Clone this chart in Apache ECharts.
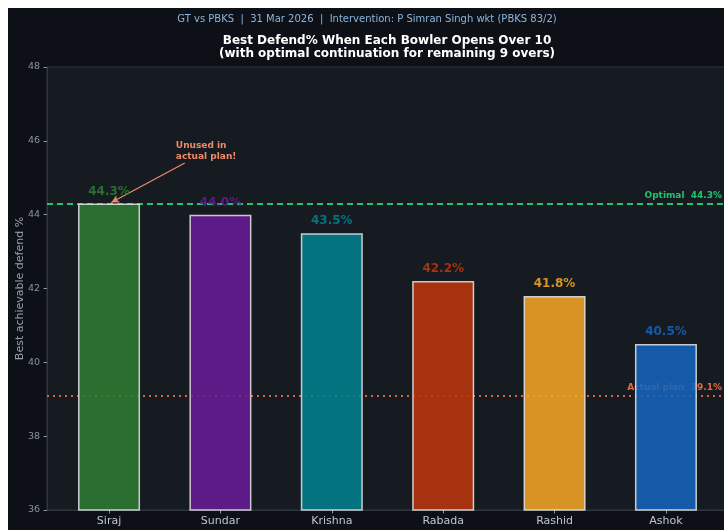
<!DOCTYPE html>
<html>
<head>
<meta charset="utf-8">
<script src="https://cdn.jsdelivr.net/npm/echarts@6/dist/echarts.min.js"></script>
<style>
  html, body { margin: 0; padding: 0; background: #ffffff; }
  #chart { position: absolute; left: 8px; top: 8px; width: 716px; height: 522px; }
</style>
</head>
<body>
<div id="chart"></div>
<script>
// data
var bowlers = ['Siraj', 'Sundar', 'Krishna', 'Rabada', 'Rashid', 'Ashok'];
var defendPct = [44.3, 44.0, 43.5, 42.2, 41.8, 40.5];
var barColors = ['#2e7d32', '#6a1b9a', '#00838f', '#bf360c', '#f9a825', '#1565c0'];
var optimalPct = 44.3;
var actualPct = 39.1;
var yTicks = [36, 38, 40, 42, 44, 46, 48];

var FONT = 'DejaVu Sans';
var dom = document.getElementById('chart');
var myChart = echarts.init(dom);

var barData = bowlers.map(function (name, i) {
	return {
		value: [i, defendPct[i]],
		itemStyle: { color: barColors[i] },
		label: { color: barColors[i] }
	};
});

option = {
	backgroundColor: '#0d1117',
	animation: false,
	grid: {
		left: 39,
		right: -4,
		top: 59,
		bottom: 20,
		outerBoundsMode: 'none',
		containLabel: false,
		show: true,
		backgroundColor: '#161b22',
		borderColor: '#30363d',
		borderWidth: 1
	},
	xAxis: {
		type: 'value',
		min: -0.557,
		max: 5.557,
		splitLine: { show: false },
		axisLine: { show: true, onZero: false, lineStyle: { color: '#30363d' } },
		axisTick: {
			show: true,
			customValues: [0, 1, 2, 3, 4, 5],
			length: 3.5,
			lineStyle: { color: '#8b949e' }
		},
		axisLabel: {
			customValues: [0, 1, 2, 3, 4, 5],
			formatter: function (v) { return bowlers[Math.round(v)]; },
			color: '#c0c6ce',
			fontFamily: FONT,
			fontSize: 11,
			margin: 6
		}
	},
	yAxis: {
		type: 'value',
		min: yTicks[0],
		max: yTicks[yTicks.length - 1],
		interval: 2,
		name: 'Best achievable defend %',
		nameLocation: 'middle',
		nameGap: 21,
		nameMoveOverlap: false,
		nameTextStyle: { color: '#9aa1aa', fontFamily: FONT, fontSize: 11 },
		splitLine: { show: false },
		axisLine: { show: true, onZero: false, lineStyle: { color: '#30363d' } },
		axisTick: { show: true, length: 3.5, lineStyle: { color: '#8b949e' } },
		axisLabel: { color: '#8b949e', fontFamily: FONT, fontSize: 9.5, margin: 7 }
	},
	series: [{
		// reference lines, under the bars
		type: 'line',
		data: [],
		zlevel: 0,
		markLine: {
			silent: true,
			symbol: 'none',
			data: [{
				yAxis: optimalPct,
				lineStyle: { color: '#1fc46c', type: [6, 4], width: 1.8 },
				label: {
					position: 'insideEndTop',
					formatter: 'Optimal  ' + optimalPct.toFixed(1) + '%',
					color: '#1fc46c',
					fontFamily: FONT,
					fontWeight: 'bold',
					fontSize: 9,
					distance: [6, 3]
				}
			}, {
				yAxis: actualPct,
				lineStyle: { color: '#d9603b', type: [2, 4], width: 1.8 },
				label: {
					position: 'insideEndTop',
					formatter: 'Actual plan  ' + actualPct.toFixed(1) + '%',
					color: '#e4683c',
					fontFamily: FONT,
					fontWeight: 'bold',
					fontSize: 9,
					distance: [6, 3]
				}
			}]
		}
	}, {
		type: 'bar',
		zlevel: 1,
		barWidth: 62,
		data: barData,
		itemStyle: { borderColor: '#e6e6e6', borderWidth: 1.5, opacity: 0.85 },
		label: {
			show: true,
			position: 'top',
			distance: 6,
			fontFamily: FONT,
			fontWeight: 'bold',
			fontSize: 12,
			formatter: function (p) { return p.value[1].toFixed(1) + '%'; }
		},
		markLine: {
			silent: true,
			symbol: ['none', 'arrow'],
			symbolSize: [6, 8],
			lineStyle: { color: '#f08a66', type: 'solid', width: 1.2 },
			label: { show: false },
			data: [[{ coord: [0.68, 45.4] }, { coord: [0.02, 44.33] }]]
		},
		markPoint: {
			silent: true,
			symbol: 'circle',
			symbolSize: 0,
			data: [{
				coord: [0.6, 45.71],
				label: {
					show: true,
					position: 'right',
					distance: 0,
					align: 'left',
					formatter: 'Unused in\nactual plan!',
					color: '#f08a66',
					fontFamily: FONT,
					fontWeight: 'bold',
					fontSize: 9,
					lineHeight: 11
				}
			}]
		}
	}],
	graphic: [{
		type: 'text',
		x: 359,
		y: 11,
		style: {
			text: 'GT vs PBKS  |  31 Mar 2026  |  Intervention: P Simran Singh wkt (PBKS 83/2)',
			fill: '#8db4dc',
			font: '10px "DejaVu Sans"',
			textAlign: 'center',
			textVerticalAlign: 'middle'
		}
	}, {
		type: 'text',
		x: 379,
		y: 39.5,
		style: {
			text: 'Best Defend% When Each Bowler Opens Over 10\n(with optimal continuation for remaining 9 overs)',
			fill: '#ffffff',
			font: 'bold 12px "DejaVu Sans"',
			lineHeight: 13.5,
			textAlign: 'center',
			textVerticalAlign: 'middle'
		}
	}]
};

if (option && typeof option === "object") {
	myChart.setOption(option, true);
}
</script>
</body>
</html>
